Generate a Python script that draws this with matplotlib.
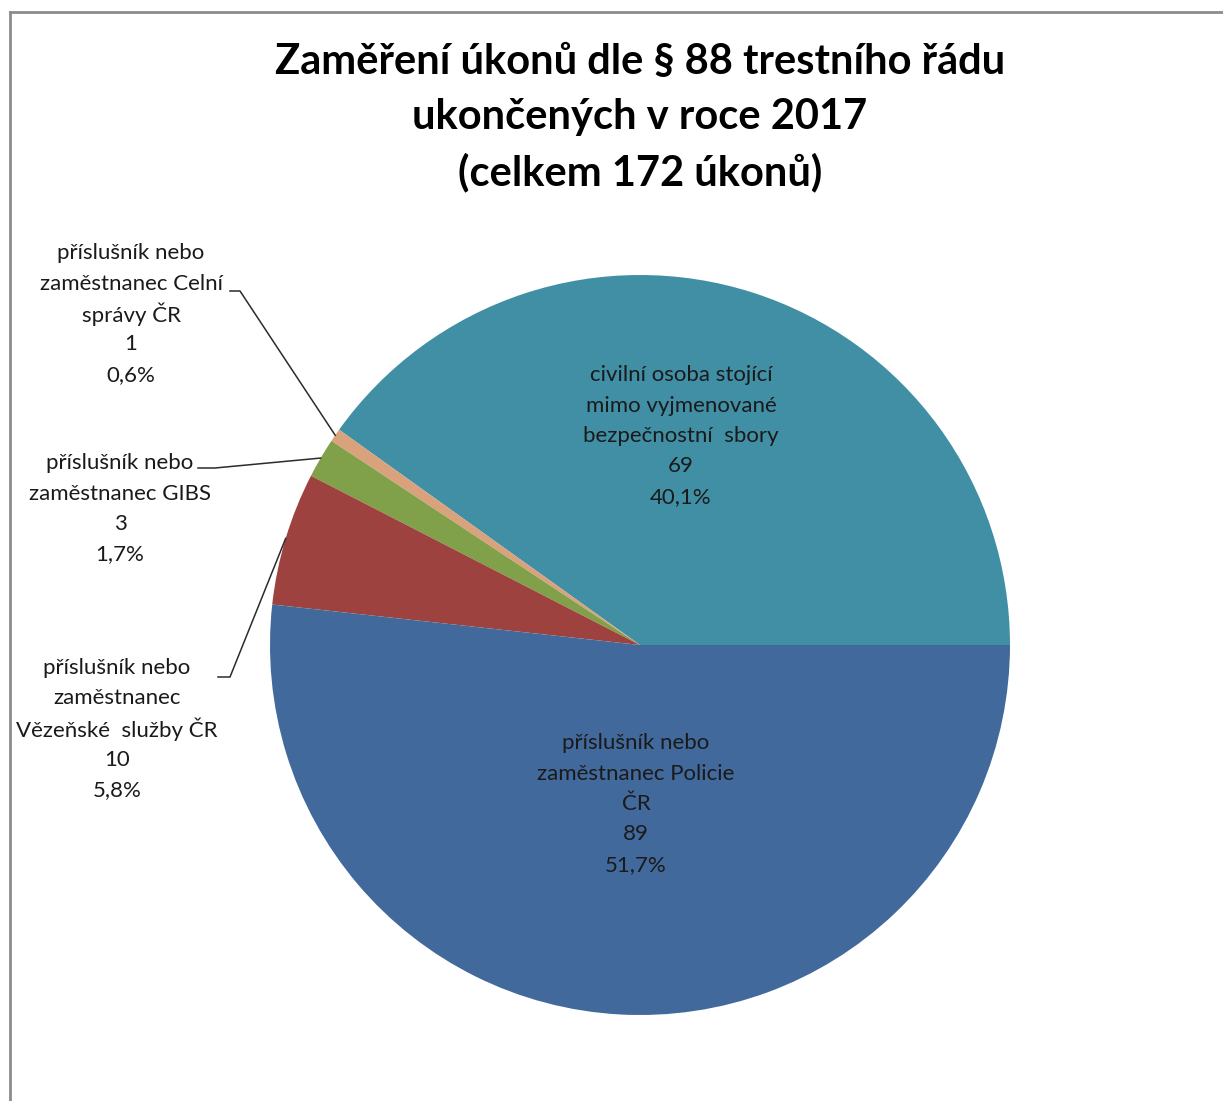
import numpy as np
import matplotlib
matplotlib.use("Agg")
import matplotlib.pyplot as plt
from matplotlib.lines import Line2D

plt.rcParams['font.family'] = ['Lato', 'DejaVu Sans']

# data (counter-clockwise from 3 o'clock)
labels = [['civilní osoba stojící', 'mimo vyjmenované', 'bezpečnostní  sbory'],
          ['příslušník nebo', 'zaměstnanec Celní', 'správy ČR'],
          ['příslušník nebo', 'zaměstnanec GIBS'],
          ['příslušník nebo', 'zaměstnanec', 'Vězeňské  služby ČR'],
          ['příslušník nebo', 'zaměstnanec Policie', 'ČR']]
counts = [69, 1, 3, 10, 89]
colors = ['#418FA5', '#D9A27C', '#80A04A', '#9E423F', '#42699B']
title = ['Zaměření úkonů dle § 88 trestního řádu',
         'ukončených v roce 2017',
         '(celkem 172 úkonů)']

W, H = 1223, 1101
fig = plt.figure(figsize=(W/100, H/100), dpi=100)
ax = fig.add_axes([0, 0, 1, 1])

# chart frame (only left and top visible)
fig.add_artist(Line2D([10/W, 10/W], [0, 1-12/H], color='#8c8c8c', lw=2))
fig.add_artist(Line2D([10/W, 1], [1-12/H, 1-12/H], color='#8c8c8c', lw=2))

cx, cy, r = 640, H-645, 370
wedges, _ = ax.pie(counts, colors=colors, startangle=0, counterclock=True,
                   center=(cx, cy), radius=r, frame=True,
                   wedgeprops=dict(linewidth=0))
ax.set_xlim(0, W)
ax.set_ylim(0, H)
ax.axis('off')

total = sum(counts)
def lab(i):
    pct = f"{counts[i]/total*100:.1f}".replace('.', ',')
    return labels[i] + [str(counts[i]), pct + '%']

def lines(x, ytop, rows, step, **kw):
    # one text per row so that accented capitals do not stretch the spacing
    for k, s in enumerate(rows):
        ax.text(x, H-(ytop + k*step), s, ha='center', va='center', **kw)

txt_kw = dict(fontsize=16, color='#1a1a1a')

# inside labels
lines(681, 375, lab(0), 30.5, **txt_kw)
lines(636, 743, lab(4), 30.5, **txt_kw)

# outside labels with leader lines
outside = {1: ((131, 253), (230, 291), (240, 291)),
           2: ((120, 463), (198, 468), (215, 468)),
           3: ((117, 668), (218, 677), (230, 677))}
for i, (pos, p0, p1) in outside.items():
    lines(pos[0], pos[1], lab(i), 30.5, **txt_kw)
    w = wedges[i]
    mid = np.deg2rad((w.theta1 + w.theta2) / 2)
    ex, ey = cx + r*np.cos(mid), cy + r*np.sin(mid)
    ax.plot([p0[0], p1[0], ex], [H-p0[1], H-p1[1], ey], color='#2b2b2b', lw=1.1)

lines(640, 62, title, 55, fontsize=30, fontweight='bold', color='black')

fig.savefig('out.png', dpi=100)
